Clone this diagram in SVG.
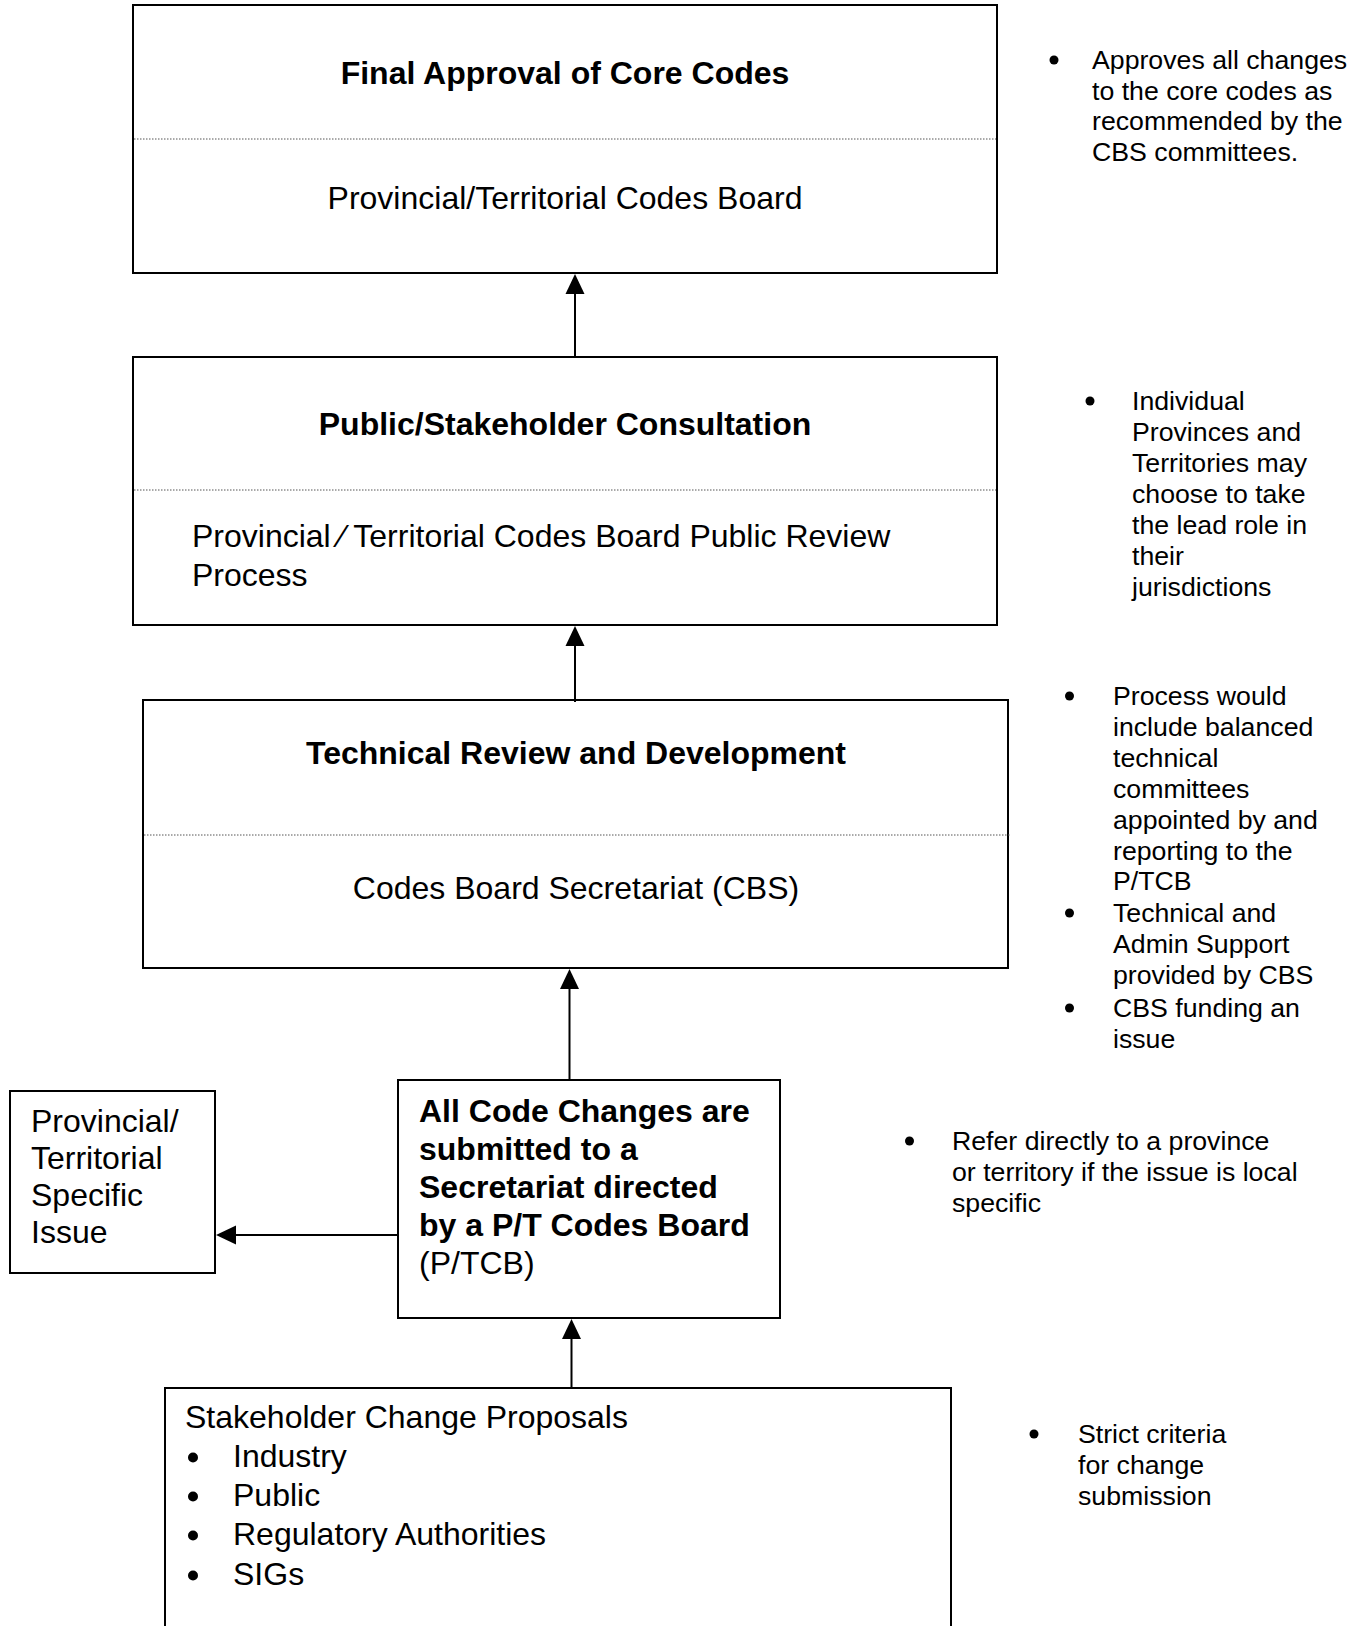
<svg xmlns="http://www.w3.org/2000/svg" width="1364" height="1626" viewBox="0 0 1364 1626">
<defs>
<style>
.box{fill:#fff;stroke:#000;stroke-width:2}
.dot{stroke:#555;stroke-width:1;stroke-dasharray:1.5 1.5;fill:none}
.t{font-family:"Liberation Sans",Arial,sans-serif;font-size:32px;fill:#000}
.b{font-weight:bold}
.m{text-anchor:middle}
.n{font-family:"Liberation Sans",Arial,sans-serif;font-size:26.7px;fill:#000}
.bl{fill:#000}
.line{stroke:#000;stroke-width:2;fill:none}
</style>
</defs>
<rect width="1364" height="1626" fill="#fff"/>
<g id="final-approval">
<rect class="box" x="133" y="5" width="864" height="268"/>
<line class="dot" x1="134" y1="139" x2="996" y2="139"/>
<text class="t b m" x="565" y="84">Final Approval of Core Codes</text>
<text class="t m" x="565" y="209">Provincial/Territorial Codes Board</text>
</g>
<g id="public-consultation">
<rect class="box" x="133" y="357" width="864" height="268"/>
<line class="dot" x1="134" y1="490" x2="996" y2="490"/>
<text class="t b m" x="565" y="435">Public/Stakeholder Consultation</text>
<text class="t" x="192" y="547">Provincial ∕ Territorial Codes Board Public Review</text>
<text class="t" x="192" y="586">Process</text>
</g>
<g id="technical-review">
<rect class="box" x="143" y="700" width="865" height="268"/>
<line class="dot" x1="144" y1="835" x2="1011" y2="835"/>
<text class="t b m" x="576" y="764">Technical Review and Development</text>
<text class="t m" x="576" y="899">Codes Board Secretariat (CBS)</text>
</g>
<g id="code-changes">
<rect class="box" x="398" y="1080" width="382" height="238"/>
<text class="t b" x="419" y="1122">All Code Changes are</text>
<text class="t b" x="419" y="1160">submitted to a</text>
<text class="t b" x="419" y="1198">Secretariat directed</text>
<text class="t b" x="419" y="1236">by a P/T Codes Board</text>
<text class="t" x="419" y="1274">(P/TCB)</text>
</g>
<g id="pt-specific">
<rect class="box" x="10" y="1091" width="205" height="182"/>
<text class="t" x="31" y="1132">Provincial/</text>
<text class="t" x="31" y="1169">Territorial</text>
<text class="t" x="31" y="1206">Specific</text>
<text class="t" x="31" y="1243">Issue</text>
</g>
<g id="stakeholder-proposals">
<rect class="box" x="165" y="1388" width="786" height="260"/>
<text class="t" x="185" y="1428">Stakeholder Change Proposals</text>
<circle class="bl" cx="193" cy="1457.5" r="5"/><text class="t" x="233" y="1467">Industry</text>
<circle class="bl" cx="193" cy="1496.5" r="5"/><text class="t" x="233" y="1506">Public</text>
<circle class="bl" cx="193" cy="1535.5" r="5"/><text class="t" x="233" y="1545">Regulatory Authorities</text>
<circle class="bl" cx="193" cy="1575.5" r="5"/><text class="t" x="233" y="1585">SIGs</text>
</g>
<g id="notes-approval">
<circle class="bl" cx="1054" cy="60" r="4.5"/>
<text class="n" x="1092" y="69">Approves all changes</text>
<text class="n" x="1092" y="100">to the core codes as</text>
<text class="n" x="1092" y="130">recommended by the</text>
<text class="n" x="1092" y="161">CBS committees.</text>
</g>
<g id="notes-consultation">
<circle class="bl" cx="1090" cy="401" r="4.5"/>
<text class="n" x="1132" y="410">Individual</text>
<text class="n" x="1132" y="441">Provinces and</text>
<text class="n" x="1132" y="472">Territories may</text>
<text class="n" x="1132" y="503">choose to take</text>
<text class="n" x="1132" y="534">the lead role in</text>
<text class="n" x="1132" y="565">their</text>
<text class="n" x="1132" y="596">jurisdictions</text>
</g>
<g id="notes-technical">
<circle class="bl" cx="1069.5" cy="696" r="4.5"/>
<text class="n" x="1113" y="705">Process would</text>
<text class="n" x="1113" y="736">include balanced</text>
<text class="n" x="1113" y="767">technical</text>
<text class="n" x="1113" y="798">committees</text>
<text class="n" x="1113" y="829">appointed by and</text>
<text class="n" x="1113" y="860">reporting to the</text>
<text class="n" x="1113" y="890">P/TCB</text>
<circle class="bl" cx="1069.5" cy="913" r="4.5"/>
<text class="n" x="1113" y="922">Technical and</text>
<text class="n" x="1113" y="953">Admin Support</text>
<text class="n" x="1113" y="984">provided by CBS</text>
<circle class="bl" cx="1069.5" cy="1008" r="4.5"/>
<text class="n" x="1113" y="1017">CBS funding an</text>
<text class="n" x="1113" y="1048">issue</text>
</g>
<g id="notes-refer">
<circle class="bl" cx="909.5" cy="1141" r="4.5"/>
<text class="n" x="952" y="1150">Refer directly to a province</text>
<text class="n" x="952" y="1181">or territory if the issue is local</text>
<text class="n" x="952" y="1212">specific</text>
</g>
<g id="notes-criteria">
<circle class="bl" cx="1034" cy="1434" r="4.5"/>
<text class="n" x="1078" y="1443">Strict criteria</text>
<text class="n" x="1078" y="1474">for change</text>
<text class="n" x="1078" y="1505">submission</text>
</g>
<g id="connectors">
<line class="line" x1="575" y1="357" x2="575" y2="290"/>
<polygon points="575,274 565.5,294 584.5,294" fill="#000"/>
<line class="line" x1="575" y1="702" x2="575" y2="642"/>
<polygon points="575,626 565.5,646 584.5,646" fill="#000"/>
<line class="line" x1="569.5" y1="1080" x2="569.5" y2="985"/>
<polygon points="569.5,969 560,989 579,989" fill="#000"/>
<line class="line" x1="571.5" y1="1388" x2="571.5" y2="1335"/>
<polygon points="571.5,1319 562,1339 581,1339" fill="#000"/>
<line class="line" x1="398" y1="1235" x2="232" y2="1235"/>
<polygon points="216,1235 236,1225.5 236,1244.5" fill="#000"/>
</g>
</svg>
